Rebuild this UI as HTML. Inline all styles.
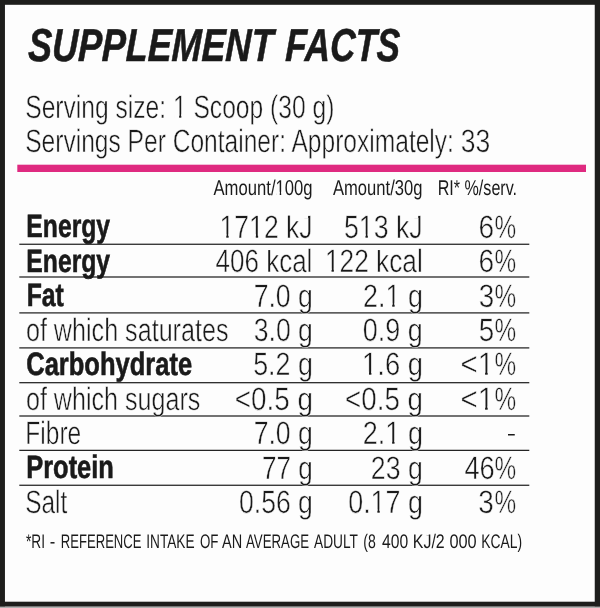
<!DOCTYPE html>
<html><head><meta charset="utf-8"><style>
html,body{margin:0;padding:0;background:#fff;width:600px;height:608px;overflow:hidden}
svg{display:block;will-change:transform}
text{font-family:"Liberation Sans",sans-serif;fill:#1a1a1a;text-rendering:geometricPrecision}
.r{font-weight:400}
.b{font-weight:700}
.bi{font-weight:700;font-style:italic}
</style></head><body>
<svg width="600" height="608" viewBox="0 0 600 608">
<rect x="0" y="0" width="600" height="608" fill="#fdfdfd"/>
<rect x="0" y="0" width="600" height="4.8" fill="#1e1e1c"/>
<rect x="0" y="0" width="4.95" height="606.7" fill="#1e1e1c"/>
<rect x="594.75" y="0" width="5.25" height="606.7" fill="#1e1e1c"/>
<rect x="0" y="601.7" width="600" height="5" fill="#1e1e1c"/>
<rect x="0" y="606.7" width="600" height="1.3" fill="#b0b0b0"/>
<rect x="17.3" y="164.7" width="568.7" height="7.3" fill="#df2a80"/>
<rect x="19.3" y="243.65" width="510" height="1.2" fill="#1a1a1a"/><rect x="19.3" y="276.40" width="510" height="1.2" fill="#1a1a1a"/><rect x="19.3" y="312.30" width="510" height="1.2" fill="#1a1a1a"/><rect x="19.3" y="347.30" width="510" height="1.2" fill="#1a1a1a"/><rect x="19.3" y="382.10" width="510" height="1.2" fill="#1a1a1a"/><rect x="19.3" y="415.40" width="510" height="1.2" fill="#1a1a1a"/><rect x="19.3" y="449.75" width="510" height="1.2" fill="#1a1a1a"/><rect x="19.3" y="484.65" width="510" height="1.2" fill="#1a1a1a"/>
<rect x="508" y="434" width="6.75" height="1.5" fill="#1a1a1a"/>
<text class="bi" transform="matrix(0.77658 0 -0.03 1 27.810 60.8)" font-size="46.2" stroke="#1a1a1a" stroke-width="0.6">SUPPLEMENT</text><text class="bi" transform="matrix(0.75767 0 -0.03 1 285.000 60.8)" font-size="46.2" stroke="#1a1a1a" stroke-width="0.6">FACTS</text><text class="r" transform="matrix(0.75975 0 0 1 25.222 118.1)" font-size="32.4" stroke="#fdfdfd" stroke-width="0.5">Serving size: 1 Scoop (30 g)</text><text class="r" transform="matrix(0.75836 0 0 1 25.232 152.1)" font-size="32.4" stroke="#fdfdfd" stroke-width="0.5">Servings Per Container: Approximately:</text><text class="r" transform="matrix(0.81831 0 0 1 460.711 152.1)" font-size="32.4" stroke="#fdfdfd" stroke-width="0.5">33</text><text class="r" transform="matrix(0.77877 0 0 1 213.506 194.7)" font-size="21.4" >Amount/100g</text><text class="r" transform="matrix(0.77493 0 0 1 333.000 194.7)" font-size="21.4" >Amount/30g</text><text class="r" transform="matrix(0.75301 0 0 1 437.682 194.7)" font-size="21.4" >RI* %/serv.</text><text class="b" transform="matrix(0.76224 0 0 1 26.359 237.3)" font-size="32.4" stroke="#1a1a1a" stroke-width="0.6">Energy</text><text class="r" transform="matrix(0.81922 0 0 1 219.609 237.9)" font-size="32.4" stroke="#fdfdfd" stroke-width="0.5">1712 kJ</text><text class="r" transform="matrix(0.82584 0 0 1 343.877 237.9)" font-size="32.4" stroke="#fdfdfd" stroke-width="0.5">513 kJ</text><text class="r" transform="matrix(0.86688 0 0 1 478.546 237.9)" font-size="32.4" stroke="#fdfdfd" stroke-width="0.5">6</text><text class="r" transform="matrix(0.75148 0 0 1 494.605 237.9)" font-size="32.4" stroke="#fdfdfd" stroke-width="0.5">%</text><text class="b" transform="matrix(0.76224 0 0 1 26.359 271.75)" font-size="32.4" stroke="#1a1a1a" stroke-width="0.6">Energy</text><text class="r" transform="matrix(0.80275 0 0 1 215.542 272.35)" font-size="32.4" stroke="#fdfdfd" stroke-width="0.5">406 kcal</text><text class="r" transform="matrix(0.81157 0 0 1 324.922 272.35)" font-size="32.4" stroke="#fdfdfd" stroke-width="0.5">122 kcal</text><text class="r" transform="matrix(0.86688 0 0 1 478.546 272.35)" font-size="32.4" stroke="#fdfdfd" stroke-width="0.5">6</text><text class="r" transform="matrix(0.75148 0 0 1 494.605 272.35)" font-size="32.4" stroke="#fdfdfd" stroke-width="0.5">%</text><text class="b" transform="matrix(0.76531 0 0 1 26.653 306)" font-size="32.4" stroke="#1a1a1a" stroke-width="0.6">Fat</text><text class="r" transform="matrix(0.82182 0 0 1 253.660 306.6)" font-size="32.4" stroke="#fdfdfd" stroke-width="0.5">7.0 g</text><text class="r" transform="matrix(0.82971 0 0 1 363.080 306.6)" font-size="32.4" stroke="#fdfdfd" stroke-width="0.5">2.1 g</text><text class="r" transform="matrix(0.85770 0 0 1 478.775 306.6)" font-size="32.4" stroke="#fdfdfd" stroke-width="0.5">3</text><text class="r" transform="matrix(0.75148 0 0 1 494.605 306.6)" font-size="32.4" stroke="#fdfdfd" stroke-width="0.5">%</text><text class="r" transform="matrix(0.77596 0 0 1 25.925 340.90000000000003)" font-size="32.4" stroke="#fdfdfd" stroke-width="0.5">of which saturates</text><text class="r" transform="matrix(0.82089 0 0 1 253.713 340.90000000000003)" font-size="32.4" stroke="#fdfdfd" stroke-width="0.5">3.0 g</text><text class="r" transform="matrix(0.83232 0 0 1 362.838 340.90000000000003)" font-size="32.4" stroke="#fdfdfd" stroke-width="0.5">0.9 g</text><text class="r" transform="matrix(0.85640 0 0 1 478.751 340.90000000000003)" font-size="32.4" stroke="#fdfdfd" stroke-width="0.5">5</text><text class="r" transform="matrix(0.75148 0 0 1 494.605 340.90000000000003)" font-size="32.4" stroke="#fdfdfd" stroke-width="0.5">%</text><text class="b" transform="matrix(0.78776 0 0 1 26.212 374.8)" font-size="32.4" stroke="#1a1a1a" stroke-width="0.6">Carbohydrate</text><text class="r" transform="matrix(0.82933 0 0 1 253.126 375.40000000000003)" font-size="32.4" stroke="#fdfdfd" stroke-width="0.5">5.2 g</text><text class="r" transform="matrix(0.84505 0 0 1 362.092 375.40000000000003)" font-size="32.4" stroke="#fdfdfd" stroke-width="0.5">1.6 g</text><text class="r" transform="matrix(0.90645 0 0 1 460.568 375.40000000000003)" font-size="32.4" stroke="#fdfdfd" stroke-width="0.5">&lt;1</text><text class="r" transform="matrix(0.75148 0 0 1 494.605 375.40000000000003)" font-size="32.4" stroke="#fdfdfd" stroke-width="0.5">%</text><text class="r" transform="matrix(0.77483 0 0 1 25.930 409.90000000000003)" font-size="32.4" stroke="#fdfdfd" stroke-width="0.5">of which sugars</text><text class="r" transform="matrix(0.85994 0 0 1 234.736 409.90000000000003)" font-size="32.4" stroke="#fdfdfd" stroke-width="0.5">&lt;0.5 g</text><text class="r" transform="matrix(0.85687 0 0 1 345.036 409.90000000000003)" font-size="32.4" stroke="#fdfdfd" stroke-width="0.5">&lt;0.5 g</text><text class="r" transform="matrix(0.90645 0 0 1 460.568 409.90000000000003)" font-size="32.4" stroke="#fdfdfd" stroke-width="0.5">&lt;1</text><text class="r" transform="matrix(0.75148 0 0 1 494.605 409.90000000000003)" font-size="32.4" stroke="#fdfdfd" stroke-width="0.5">%</text><text class="r" transform="matrix(0.75682 0 0 1 25.365 444.35)" font-size="32.4" stroke="#fdfdfd" stroke-width="0.5">Fibre</text><text class="r" transform="matrix(0.82182 0 0 1 253.660 444.35)" font-size="32.4" stroke="#fdfdfd" stroke-width="0.5">7.0 g</text><text class="r" transform="matrix(0.83446 0 0 1 362.794 444.35)" font-size="32.4" stroke="#fdfdfd" stroke-width="0.5">2.1 g</text><text class="b" transform="matrix(0.78543 0 0 1 26.233 477.9)" font-size="32.4" stroke="#1a1a1a" stroke-width="0.6">Protein</text><text class="r" transform="matrix(0.80566 0 0 1 261.979 478.5)" font-size="32.4" stroke="#fdfdfd" stroke-width="0.5">77 g</text><text class="r" transform="matrix(0.82438 0 0 1 370.826 478.5)" font-size="32.4" stroke="#fdfdfd" stroke-width="0.5">23 g</text><text class="r" transform="matrix(0.84048 0 0 1 464.394 478.5)" font-size="32.4" stroke="#fdfdfd" stroke-width="0.5">46</text><text class="r" transform="matrix(0.75148 0 0 1 494.605 478.5)" font-size="32.4" stroke="#fdfdfd" stroke-width="0.5">%</text><text class="r" transform="matrix(0.75439 0 0 1 25.127 513.1)" font-size="32.4" stroke="#fdfdfd" stroke-width="0.5">Salt</text><text class="r" transform="matrix(0.82083 0 0 1 238.973 513.1)" font-size="32.4" stroke="#fdfdfd" stroke-width="0.5">0.56 g</text><text class="r" transform="matrix(0.82979 0 0 1 348.197 513.1)" font-size="32.4" stroke="#fdfdfd" stroke-width="0.5">0.17 g</text><text class="r" transform="matrix(0.86242 0 0 1 478.129 513.1)" font-size="32.4" stroke="#fdfdfd" stroke-width="0.5">3</text><text class="r" transform="matrix(0.75148 0 0 1 494.605 513.1)" font-size="32.4" stroke="#fdfdfd" stroke-width="0.5">%</text><text class="r" transform="matrix(0.69835 0 0 1 26.000 547.6)" font-size="19.6" >*RI</text><text class="r" transform="matrix(0.84454 0 0 1 49.715 547.6)" font-size="19.6" >-</text><text class="r" transform="matrix(0.66712 0 0 1 60.845 547.6)" font-size="19.6" >REFERENCE</text><text class="r" transform="matrix(0.69751 0 0 1 146.238 547.6)" font-size="19.6" >INTAKE</text><text class="r" transform="matrix(0.67998 0 0 1 199.923 547.6)" font-size="19.6" >OF</text><text class="r" transform="matrix(0.74088 0 0 1 222.000 547.6)" font-size="19.6" >AN</text><text class="r" transform="matrix(0.67588 0 0 1 246.000 547.6)" font-size="19.6" >AVERAGE</text><text class="r" transform="matrix(0.70051 0 0 1 314.000 547.6)" font-size="19.6" >ADULT</text><text class="r" transform="matrix(0.71793 0 0 1 363.282 547.6)" font-size="19.6" >(8</text><text class="r" transform="matrix(0.80138 0 0 1 382.000 547.6)" font-size="19.6" >400</text><text class="r" transform="matrix(0.81407 0 0 1 412.813 547.6)" font-size="19.6" >KJ/2</text><text class="r" transform="matrix(0.83502 0 0 1 449.409 547.6)" font-size="19.6" >000</text><text class="r" transform="matrix(0.70799 0 0 1 481.292 547.6)" font-size="19.6" >KCAL)</text>
<rect x="174.14" y="114.38" width="4.99" height="4.72" fill="#fdfdfd"/><rect x="181.30" y="114.38" width="4.86" height="4.72" fill="#fdfdfd"/><rect x="276.35" y="191.80" width="3.38" height="3.90" fill="#fdfdfd"/><rect x="281.20" y="191.80" width="3.29" height="3.90" fill="#fdfdfd"/><rect x="220.91" y="234.18" width="5.38" height="4.72" fill="#fdfdfd"/><rect x="228.63" y="234.18" width="5.24" height="4.72" fill="#fdfdfd"/><rect x="250.41" y="234.18" width="5.38" height="4.72" fill="#fdfdfd"/><rect x="258.13" y="234.18" width="5.24" height="4.72" fill="#fdfdfd"/><rect x="286.00" y="213.62" width="5.18" height="1.99" fill="#fdfdfd"/><rect x="303.81" y="214.81" width="4.30" height="3.42" fill="#fdfdfd"/><rect x="360.05" y="234.18" width="5.42" height="4.72" fill="#fdfdfd"/><rect x="367.84" y="234.18" width="5.28" height="4.72" fill="#fdfdfd"/><rect x="395.93" y="213.62" width="5.23" height="1.99" fill="#fdfdfd"/><rect x="413.88" y="214.81" width="4.34" height="3.42" fill="#fdfdfd"/><rect x="266.14" y="248.07" width="5.08" height="1.99" fill="#fdfdfd"/><rect x="326.21" y="268.63" width="5.33" height="4.72" fill="#fdfdfd"/><rect x="333.86" y="268.63" width="5.19" height="4.72" fill="#fdfdfd"/><rect x="376.08" y="248.07" width="5.14" height="1.99" fill="#fdfdfd"/><rect x="386.79" y="302.88" width="5.45" height="4.72" fill="#fdfdfd"/><rect x="394.62" y="302.88" width="5.30" height="4.72" fill="#fdfdfd"/><rect x="363.43" y="371.68" width="5.55" height="4.72" fill="#fdfdfd"/><rect x="371.40" y="371.68" width="5.40" height="4.72" fill="#fdfdfd"/><rect x="479.14" y="371.68" width="5.95" height="4.72" fill="#fdfdfd"/><rect x="487.69" y="371.68" width="5.79" height="4.72" fill="#fdfdfd"/><rect x="479.14" y="406.18" width="5.95" height="4.72" fill="#fdfdfd"/><rect x="487.69" y="406.18" width="5.79" height="4.72" fill="#fdfdfd"/><rect x="386.64" y="440.63" width="5.48" height="4.72" fill="#fdfdfd"/><rect x="394.51" y="440.63" width="5.33" height="4.72" fill="#fdfdfd"/><rect x="371.91" y="509.38" width="5.45" height="4.72" fill="#fdfdfd"/><rect x="379.74" y="509.38" width="5.30" height="4.72" fill="#fdfdfd"/><rect x="426.17" y="533.32" width="2.59" height="2.44" fill="#fdfdfd"/>
</svg>
</body></html>
